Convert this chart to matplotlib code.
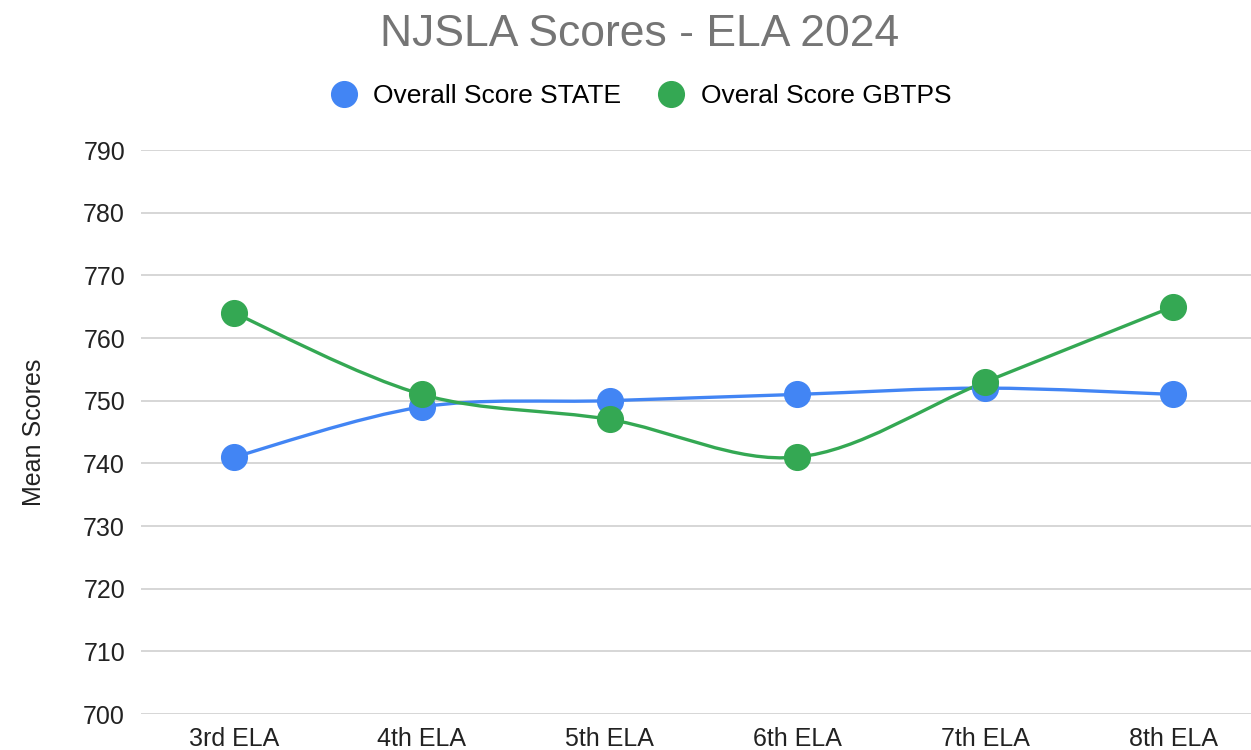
import numpy as np
import matplotlib.pyplot as plt
from matplotlib.path import Path
from matplotlib.patches import PathPatch
from matplotlib.lines import Line2D

# === Dados ===
grades = ["3rd ELA", "4th ELA", "5th ELA", "6th ELA", "7th ELA", "8th ELA"]
state = [741, 749, 750, 751, 752, 751]
gbtps = [764, 751, 747, 741, 753, 765]
yticks = [700, 710, 720, 730, 740, 750, 760, 770, 780, 790]

BLUE = "#4285F4"
GREEN = "#34A853"

plt.rcParams['font.family'] = ['Liberation Sans', 'DejaVu Sans']


def smooth_path(xs, ys):
    # catmull-rom -> bezier, like the smoothed lines in google sheets
    pts = np.column_stack([xs, ys]).astype(float)
    verts = [pts[0]]
    codes = [Path.MOVETO]
    n = len(pts)
    for i in range(n - 1):
        p0 = pts[max(i - 1, 0)]
        p1 = pts[i]
        p2 = pts[i + 1]
        p3 = pts[min(i + 2, n - 1)]
        c1 = p1 + (p2 - p0) / 6
        c2 = p2 - (p3 - p1) / 6
        verts += [c1, c2, p2]
        codes += [Path.CURVE4] * 3
    return Path(verts, codes)


fig = plt.figure(figsize=(12.51, 7.5), dpi=100)
ax = fig.add_axes([141 / 1251, 1 - 714 / 750, 1 - 141 / 1251, (714 - 150) / 750])

x = np.arange(len(grades))
for vals, cor in [(state, BLUE), (gbtps, GREEN)]:
    ax.add_patch(PathPatch(smooth_path(x, vals), fill=False, edgecolor=cor, lw=2.4, zorder=3))

ax.plot(x, state, 'o', color=BLUE, ms=18.5, zorder=4, clip_on=False)
ax.plot(x, gbtps, 'o', color=GREEN, ms=18.5, zorder=5, clip_on=False)

ax.set_xlim(-0.495, 5.415)
ax.set_ylim(700, 790)
ax.set_yticks(yticks)
ax.set_xticks(x)
ax.set_xticklabels(grades)
ax.grid(axis='y', color='#cccccc', lw=1.1)
ax.set_axisbelow(True)
for s in ax.spines.values():
    s.set_visible(False)
ax.tick_params(axis='both', length=0, labelsize=18, colors='#222222')
ax.tick_params(axis='y', pad=11.5)
ax.tick_params(axis='x', pad=9)
ax.set_ylabel("Mean Scores", fontsize=18, color='#222222', labelpad=27)

fig.text(640 / 1251, 1 - 35 / 750, "NJSLA Scores - ELA 2024", ha='center', va='center',
         fontsize=32, color='#757575')

handles = [Line2D([], [], ls='none', marker='o', ms=18.5, color=BLUE),
           Line2D([], [], ls='none', marker='o', ms=18.5, color=GREEN)]
fig.legend(handles, ["Overall Score STATE", "Overal Score GBTPS"], loc='center',
           bbox_to_anchor=(641 / 1251, 1 - 96 / 750), ncol=2, frameon=False,
           fontsize=19, handlelength=1.0, handletextpad=0.6, columnspacing=1.4)

plt.savefig("out.png", dpi=100)
